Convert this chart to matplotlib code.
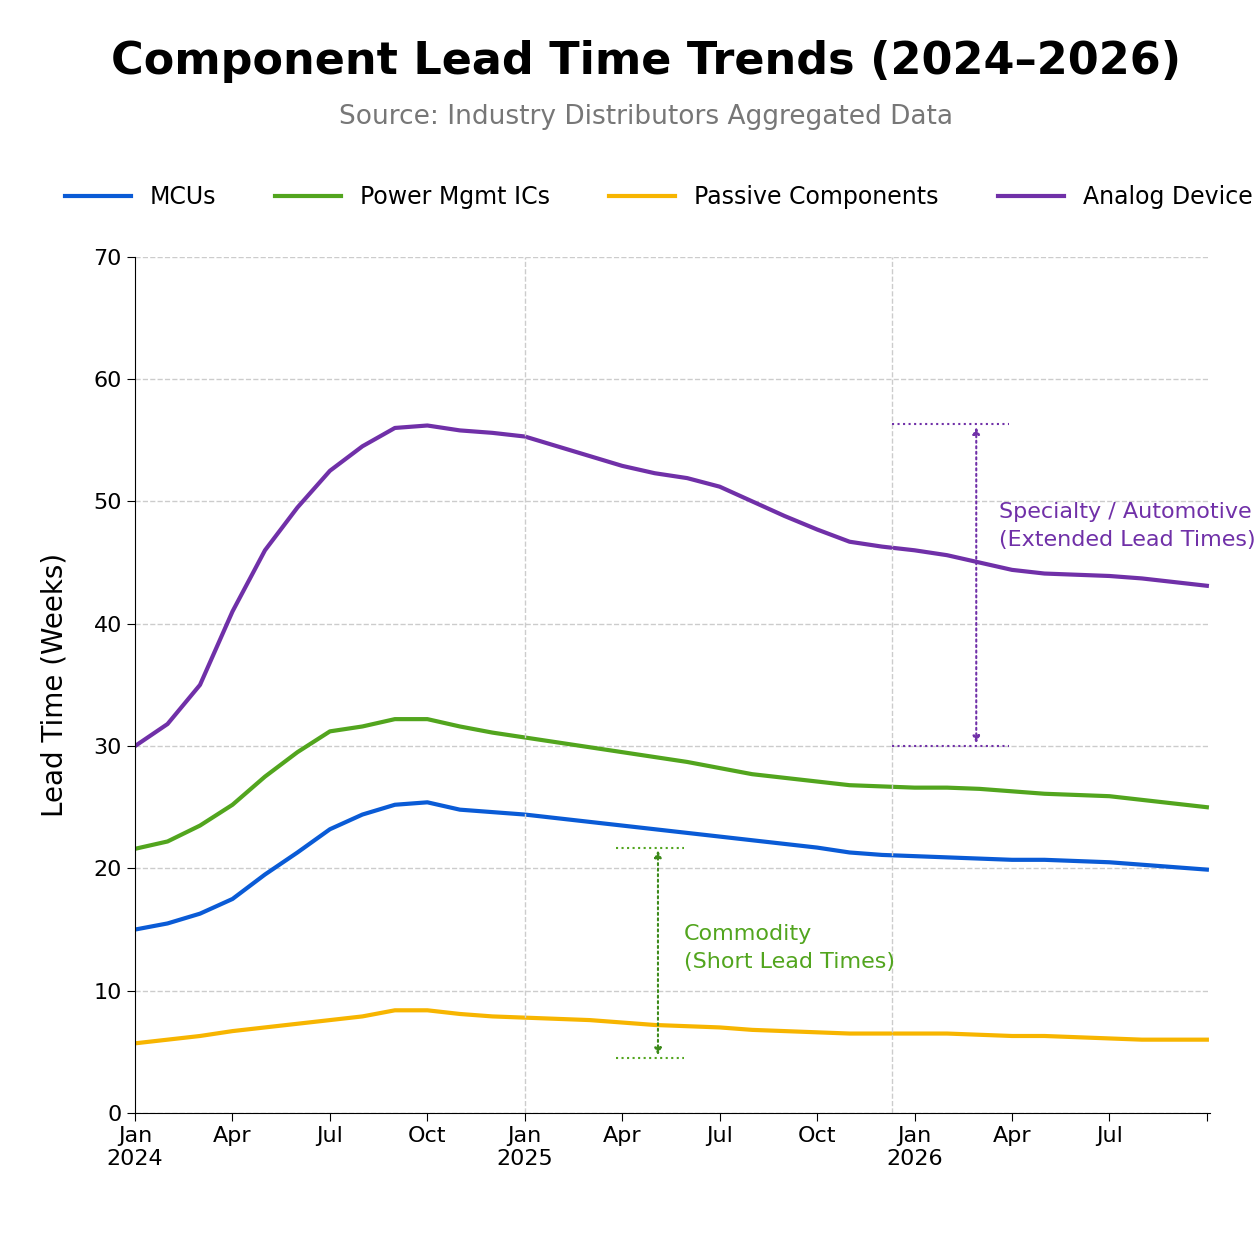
import matplotlib.pyplot as plt

# monthly values, Jan 2024 .. Oct 2026
months = list(range(34))
analog = [30, 31.8, 35, 41, 46, 49.5, 52.5, 54.5, 56, 56.2, 55.8, 55.6,
          55.3, 54.5, 53.7, 52.9, 52.3, 51.9, 51.2, 50, 48.8, 47.7, 46.7, 46.3,
          46, 45.6, 45, 44.4, 44.1, 44, 43.9, 43.7, 43.4, 43.1]
power = [21.6, 22.2, 23.5, 25.2, 27.5, 29.5, 31.2, 31.6, 32.2, 32.2, 31.6, 31.1,
         30.7, 30.3, 29.9, 29.5, 29.1, 28.7, 28.2, 27.7, 27.4, 27.1, 26.8, 26.7,
         26.6, 26.6, 26.5, 26.3, 26.1, 26.0, 25.9, 25.6, 25.3, 25.0]
mcu = [15, 15.5, 16.3, 17.5, 19.5, 21.3, 23.2, 24.4, 25.2, 25.4, 24.8, 24.6,
       24.4, 24.1, 23.8, 23.5, 23.2, 22.9, 22.6, 22.3, 22.0, 21.7, 21.3, 21.1,
       21.0, 20.9, 20.8, 20.7, 20.7, 20.6, 20.5, 20.3, 20.1, 19.9]
passive = [5.7, 6.0, 6.3, 6.7, 7.0, 7.3, 7.6, 7.9, 8.4, 8.4, 8.1, 7.9,
           7.8, 7.7, 7.6, 7.4, 7.2, 7.1, 7.0, 6.8, 6.7, 6.6, 6.5, 6.5,
           6.5, 6.5, 6.4, 6.3, 6.3, 6.2, 6.1, 6.0, 6.0, 6.0]
tick_pos = list(range(0, 34, 3))
tick_labels = ['Jan\n2024', 'Apr', 'Jul', 'Oct', 'Jan\n2025', 'Apr', 'Jul', 'Oct',
               'Jan\n2026', 'Apr', 'Jul', '']

fig = plt.figure(figsize=(12.54, 12.34), dpi=100)
ax = fig.add_axes([0.1077, 0.098, 0.8573, 0.694])

ax.plot(months, mcu, color='#0a5bd6', lw=3, label='MCUs')
ax.plot(months, power, color='#52a51e', lw=3, label='Power Mgmt ICs')
ax.plot(months, passive, color='#f7b500', lw=3, label='Passive Components')
ax.plot(months, analog, color='#7030a8', lw=3, label='Analog Devices')

ax.set_xlim(0, 33.1)
ax.set_ylim(0, 70)
ax.set_yticks(range(0, 71, 10))
ax.set_xticks(tick_pos)
ax.set_xticklabels(tick_labels)
ax.tick_params(labelsize=16, length=6)
ax.grid(axis='y', ls='--', color='#cccccc', lw=1)
for xv in [12, 23.3]:
    ax.axvline(xv, ls='--', color='#cccccc', lw=1)
for s in ['top', 'right']:
    ax.spines[s].set_visible(False)
ax.set_ylabel('Lead Time (Weeks)', fontsize=20, labelpad=18)

# specialty annotation
ax.hlines([56.3, 30], 23.3, 26.9, colors='#7030a8', ls=':', lw=1.5)
ax.annotate('', xy=(25.9, 56.3), xytext=(25.9, 30),
            arrowprops=dict(arrowstyle='<|-|>', ls=':', color='#7030a8', lw=1.5))
ax.text(26.6, 48, 'Specialty / Automotive\n(Extended Lead Times)', color='#7030a8',
        fontsize=16, ha='left', va='center', linespacing=1.5)

# commodity annotation
ax.hlines([21.7, 4.5], 14.8, 16.9, colors='#52a51e', ls=':', lw=1.5)
ax.annotate('', xy=(16.1, 21.7), xytext=(16.1, 4.5),
            arrowprops=dict(arrowstyle='<|-|>', ls=':', color='#3c8a1a', lw=1.5))
ax.text(16.9, 13.5, 'Commodity\n(Short Lead Times)', color='#52a51e',
        fontsize=16, ha='left', va='center', linespacing=1.5)

fig.text(0.515, 0.95, 'Component Lead Time Trends (2024\u20132026)', ha='center',
         va='center', fontsize=32, fontweight='bold')
fig.text(0.515, 0.905, 'Source: Industry Distributors Aggregated Data', ha='center',
         va='center', fontsize=19, color='#777777')
fig.legend(loc='center', bbox_to_anchor=(0.53, 0.84), ncol=4, frameon=False,
           fontsize=17, handlelength=2.8, columnspacing=2.5)

fig.savefig('out.png')
